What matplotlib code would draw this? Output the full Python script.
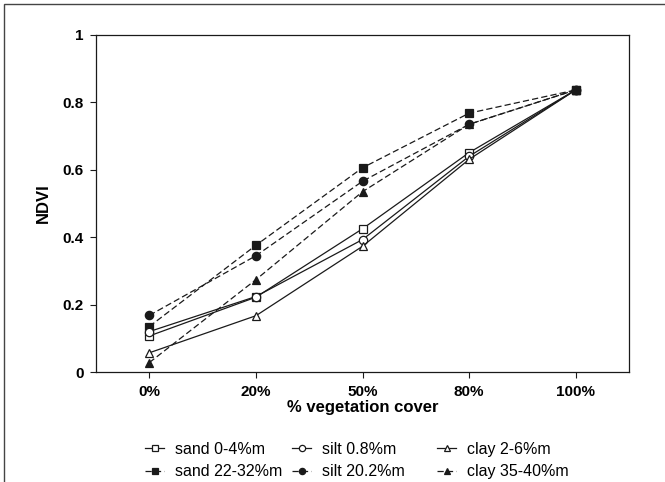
import matplotlib
matplotlib.use("Agg")
import matplotlib.pyplot as plt
from matplotlib.patches import Rectangle

plt.rcParams['font.family'] = ['Liberation Sans', 'DejaVu Sans']

categories = ["0%", "20%", "50%", "80%", "100%"]
sand_0_4 = [0.107, 0.222, 0.425, 0.651, 0.837]
silt_0_8 = [0.120, 0.224, 0.393, 0.640, 0.837]
clay_2_6 = [0.057, 0.167, 0.373, 0.631, 0.837]
sand_22_32 = [0.135, 0.376, 0.606, 0.768, 0.837]
silt_20_2 = [0.168, 0.345, 0.566, 0.735, 0.837]
clay_35_40 = [0.028, 0.274, 0.535, 0.735, 0.837]

fig = plt.figure(figsize=(6.65, 4.82), dpi=100)
ax = fig.add_axes([0.1444, 0.2282, 0.8015, 0.6992])

x = list(range(len(categories)))
lc = '#1a1a1a'
dash = (0, (5, 2.5))
series = [
    (sand_0_4, 's', 'white', '-', 'sand 0-4%m'),
    (sand_22_32, 's', lc, dash, 'sand 22-32%m'),
    (silt_0_8, 'o', 'white', '-', 'silt 0.8%m'),
    (silt_20_2, 'o', lc, dash, 'silt 20.2%m'),
    (clay_2_6, '^', 'white', '-', 'clay 2-6%m'),
    (clay_35_40, '^', lc, dash, 'clay 35-40%m'),
]
handles = []
for vals, m, fc, ls, lab in series:
    h, = ax.plot(x, vals, color=lc, linestyle=ls, linewidth=0.9, marker=m,
                 markersize=6, markerfacecolor=fc, markeredgecolor=lc,
                 markeredgewidth=0.9, label=lab)
    handles.append(h)

ax.set_xlim(-0.5, 4.5)
ax.set_ylim(0, 1)
ax.set_xticks(x)
ax.set_xticklabels(categories, fontweight='bold', fontsize=11)
ax.set_yticks([0, 0.2, 0.4, 0.6, 0.8, 1])
ax.set_yticklabels(['0', '0.2', '0.4', '0.6', '0.8', '1'], fontweight='bold', fontsize=11)
ax.tick_params(direction='out', length=4, width=0.8, color=lc, pad=5)
for s in ax.spines.values():
    s.set_linewidth(0.9)
    s.set_color(lc)
ax.set_xlabel('% vegetation cover', fontweight='bold', fontsize=12, labelpad=1)
ax.set_ylabel('NDVI', fontweight='bold', fontsize=12, labelpad=8)

col_x = [145 / 665, 292 / 665, 437 / 665]
for i in range(3):
    fig.legend(handles=handles[2 * i:2 * i + 2], loc='upper left',
               bbox_to_anchor=(col_x[i], 0.083), ncol=1, frameon=False,
               fontsize=11.5, handlelength=1.2, handletextpad=0.65,
               labelspacing=0.45, borderaxespad=0, borderpad=0,
               markerscale=0.75)

fig.patches.append(Rectangle((4 / 665, -0.1), 1.2, 1 - 4 / 482 + 0.1,
                             transform=fig.transFigure, fill=False,
                             edgecolor='#444444', linewidth=1.0))

fig.savefig('out.png', dpi=100)
